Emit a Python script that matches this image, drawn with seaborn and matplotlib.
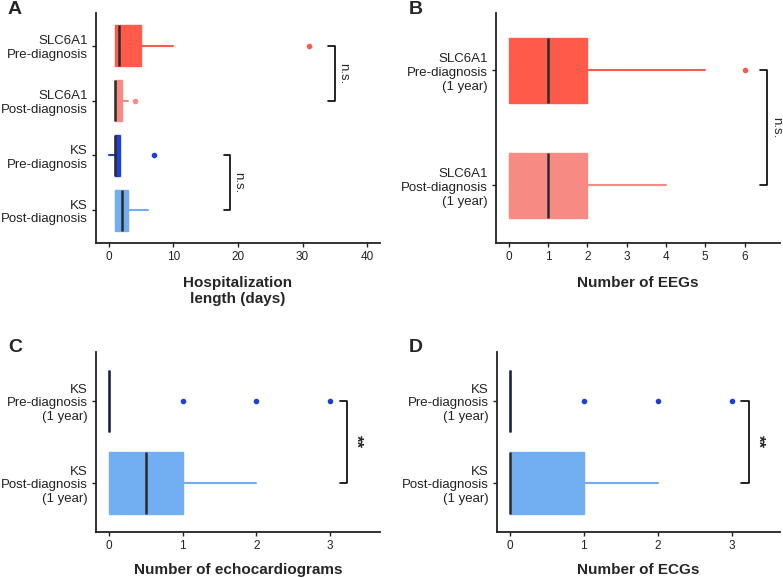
import matplotlib
matplotlib.use("Agg")
import matplotlib.pyplot as plt
import seaborn as sns

sns.set_style("ticks")
plt.rcParams['font.family'] = ['Liberation Sans', 'DejaVu Sans']

# ---- colours
RED = "#ff5a4a"
PINK = "#f88a84"
NAVY = "#1f3fd6"
LIGHTBLUE = "#72aef2"
MEDIAN = "#2b2b2b"

# ---- panel A : hospitalization length (days)
a_labels = ["SLC6A1\nPre-diagnosis", "SLC6A1\nPost-diagnosis", "KS\nPre-diagnosis", "KS\nPost-diagnosis"]
a_q1 = [1, 1, 1, 1]
a_med = [1.5, 1, 1, 2]
a_q3 = [5, 2, 1.75, 3]
a_lo = [1, 1, 0, 1]
a_hi = [10, 3, 1.75, 6]
a_out = [[31], [4], [7], []]
a_colors = [RED, PINK, NAVY, LIGHTBLUE]

# ---- panel B : number of EEGs
b_labels = ["SLC6A1\nPre-diagnosis\n(1 year)", "SLC6A1\nPost-diagnosis\n(1 year)"]
b_q1 = [0, 0]
b_med = [1, 1]
b_q3 = [2, 2]
b_lo = [0, 0]
b_hi = [5, 4]
b_out = [[6], []]
b_colors = [RED, PINK]

# ---- panel C : number of echocardiograms
c_labels = ["KS\nPre-diagnosis\n(1 year)", "KS\nPost-diagnosis\n(1 year)"]
c_q1 = [0, 0]
c_med = [0, 0.5]
c_q3 = [0, 1]
c_lo = [0, 0]
c_hi = [0, 2]
c_out = [[1, 2, 3], []]

# ---- panel D : number of ECGs
d_labels = ["KS\nPre-diagnosis\n(1 year)", "KS\nPost-diagnosis\n(1 year)"]
d_q1 = [0, 0]
d_med = [0, 0]
d_q3 = [0, 1]
d_lo = [0, 0]
d_hi = [0, 2]
d_out = [[1, 2, 3], []]
cd_colors = [NAVY, LIGHTBLUE]


def draw_panel(ax, labels, q1, med, q3, lo, hi, out, colors, width, pad, xlim, xticks, xlabel, lpad):
    n = len(labels)
    for i in range(n):
        stats = [dict(q1=q1[i], med=med[i], q3=q3[i], whislo=lo[i], whishi=hi[i], fliers=out[i])]
        c = colors[i]
        ax.bxp(stats, positions=[i], widths=width, vert=False, patch_artist=True,
               showcaps=False, showfliers=True,
               boxprops=dict(facecolor=c, edgecolor=c, linewidth=1),
               whiskerprops=dict(color=c, linewidth=1.5),
               medianprops=dict(color=MEDIAN if q3[i] > q1[i] else "#1c1c4a", linewidth=1.8),
               flierprops=dict(marker="o", markersize=3, markerfacecolor=c, markeredgecolor=c))
    ax.set_yticks(range(n))
    ax.set_yticklabels(labels, fontsize=9.5, color="#222222")
    ax.set_ylim(n - 1 + pad, -pad)
    ax.set_xlim(*xlim)
    ax.set_xticks(xticks)
    ax.tick_params(axis="x", labelsize=8.5, colors="#222222", length=3, width=1, pad=3)
    ax.tick_params(axis="y", length=3, width=1, colors="#222222", pad=3)
    ax.set_xlabel(xlabel, fontsize=11, fontweight="bold", labelpad=lpad)
    sns.despine(ax=ax)
    for s in ["left", "bottom"]:
        ax.spines[s].set_linewidth(1.3)
        ax.spines[s].set_color("#222222")


def bracket(ax, x, tick, y0, y1, text, tx, size=9.5, weight="normal"):
    ax.plot([x - tick, x, x, x - tick], [y0, y0, y1, y1], color="black", lw=1.2, clip_on=False)
    ax.text(tx, (y0 + y1) / 2, text, rotation=270, ha="center", va="center",
            fontsize=size, fontweight=weight)


fig = plt.figure(figsize=(7.83, 5.78), dpi=100)
axA = fig.add_axes([0.1226, 0.5796, 0.3627, 0.398])
axB = fig.add_axes([0.6335, 0.5796, 0.3627, 0.398])
axC = fig.add_axes([0.1226, 0.0796, 0.3627, 0.3114])
axD = fig.add_axes([0.6347, 0.0796, 0.3614, 0.3114])

draw_panel(axA, a_labels, a_q1, a_med, a_q3, a_lo, a_hi, a_out, a_colors, 0.75, 0.6,
           (-2, 42), [0, 10, 20, 30, 40], "Hospitalization\nlength (days)", 9)
draw_panel(axB, b_labels, b_q1, b_med, b_q3, b_lo, b_hi, b_out, b_colors, 0.56, 0.5,
           (-0.32, 6.9), [0, 1, 2, 3, 4, 5, 6], "Number of EEGs", 9)
draw_panel(axC, c_labels, c_q1, c_med, c_q3, c_lo, c_hi, c_out, cd_colors, 0.75, 0.6,
           (-0.18, 3.68), [0, 1, 2, 3], "Number of echocardiograms", 7.5)
draw_panel(axD, d_labels, d_q1, d_med, d_q3, d_lo, d_hi, d_out, cd_colors, 0.75, 0.6,
           (-0.17, 3.65), [0, 1, 2, 3], "Number of ECGs", 7.5)

bracket(axA, 35, 1.0, 0, 1, "n.s.", 36.3)
bracket(axA, 18.8, 1.0, 2, 3, "n.s.", 20.1)
bracket(axB, 6.58, 0.18, 0, 1, "n.s.", 6.8)
bracket(axC, 3.23, 0.1, 0, 1, "**", 3.35, size=12, weight="bold")
bracket(axD, 3.23, 0.1, 0, 1, "**", 3.35, size=12, weight="bold")

for lab, x, y in [("A", 0.010, 0.998), ("B", 0.522, 0.998), ("C", 0.010, 0.413), ("D", 0.522, 0.413)]:
    fig.text(x, y, lab, fontsize=14, fontweight="bold", va="top", ha="left")

fig.savefig("out.png", dpi=100)
